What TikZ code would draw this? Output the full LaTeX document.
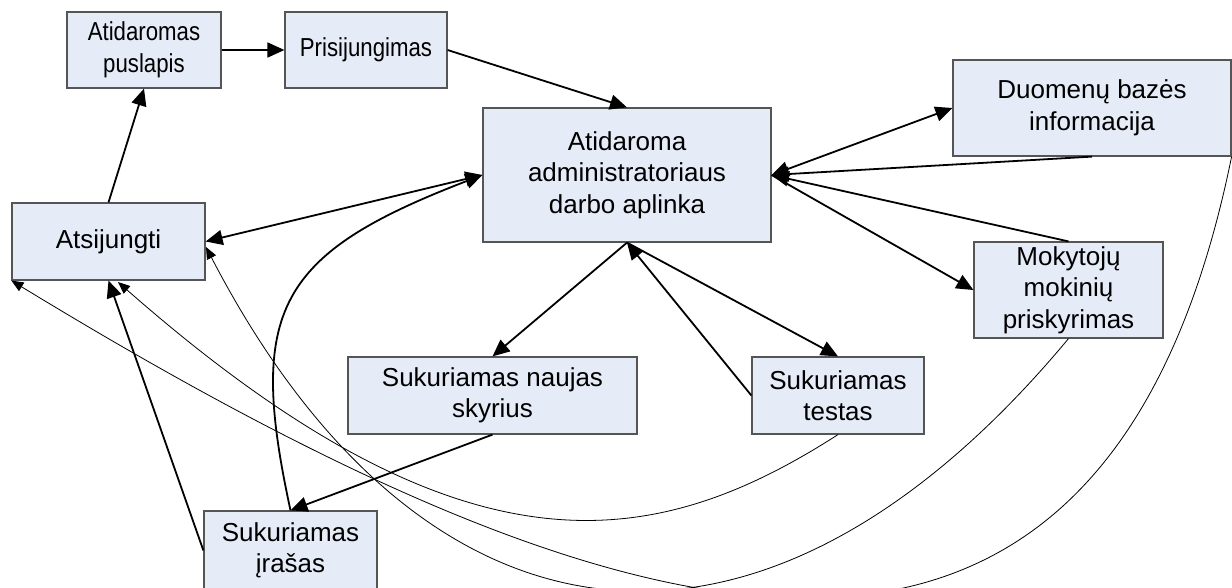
\documentclass[tikz,border=0pt]{standalone}
\usepackage{fontspec}
\usepackage{graphicx}
\setmainfont{Liberation Sans}
\usetikzlibrary{arrows.meta}
\definecolor{boxfill}{RGB}{230,236,247}
\definecolor{boxline}{RGB}{85,85,85}
\newcommand{\cnd}[1]{\scalebox{0.855}[1]{#1}}
\begin{document}
\begin{tikzpicture}[x=1pt,y=-1pt,
  box/.style={draw=boxline, line width=1.2pt, fill=boxfill, inner sep=0pt, align=center,
              font=\fontsize{26}{31.5}\selectfont},
  thk/.style={line width=1.8pt, -{Triangle[length=17pt,width=15pt]}},
  thkb/.style={line width=1.8pt, {Triangle[length=17pt,width=15pt]}-{Triangle[length=17pt,width=15pt]}},
  thn/.style={line width=0.8pt, -{Triangle[length=12pt,width=10pt]}}]
\useasboundingbox (0,0) rectangle (1232,587);
\fill[white] (0,0) rectangle (1232,587);
% nodes
\node[box, minimum width=154pt, minimum height=76pt] (pusl) at (144,50) {\cnd{Atidaromas}\\\cnd{puslapis}};
\node[box, minimum width=162pt, minimum height=76pt] (prisij) at (366,50) {\cnd{Prisijungimas}};
\node[box, minimum width=288pt, minimum height=134pt] (admin) at (627,175) {Atidaroma\\administratoriaus\\darbo aplinka};
\node[box, minimum width=193pt, minimum height=77pt] (atsij) at (108.5,241.5) {Atsijungti};
\node[box, minimum width=278pt, minimum height=96pt] (duom) at (1092,108) {Duomenų bazės\\informacija};
\node[box, minimum width=189pt, minimum height=96pt] (mokyt) at (1068.5,290) {Mokytojų\\mokinių\\priskyrimas};
\node[box, minimum width=172pt, minimum height=77pt] (testas) at (838,395.5) {Sukuriamas\\testas};
\node[box, minimum width=289pt, minimum height=77pt] (skyr) at (492.5,395.5) {Sukuriamas naujas\\skyrius};
\node[box, minimum width=173pt, minimum height=79pt] (iras) at (290.5,550.5) {Sukuriamas\\įrašas};
% free ends
\coordinate (c1end) at (118,282);
\coordinate (c2end) at (206,247);
% thick connectors
\draw[thk] (pusl.east) -- (prisij.west);
\draw[thk] (prisij.east) -- (admin.north);
\draw[thk] (atsij.north) -- (pusl.south);
\draw[thkb] (admin.west) -- (atsij.east);
\draw[thk] (iras.north) .. controls (247,310) and (277,254) .. (admin.west);
\draw[thk] (admin.south) -- (skyr.north);
\draw[thk] (testas.west) -- (admin.south);
\draw[thk] (admin.south) -- (testas.north);
\draw[thk] (skyr.south) -- (iras.north);
\draw[thk] (iras.west) -- (atsij.south);
\draw[thkb] (admin.east) -- (duom.west);
\draw[thk] (duom.south) -- (admin.east);
\draw[thk] (mokyt.north) -- (admin.east);
\draw[thk] (admin.east) -- (mokyt.west);
% thin curves
\draw[thn] (testas.south) .. controls (655,552) and (465,587) .. (c1end);
\draw[thn] (mokyt.south) .. controls (756,714) and (419,658) .. (c2end);
\draw[thn] (duom.south east) .. controls (1101,798) and (616,649) .. (atsij.south west);
\end{tikzpicture}
\end{document}
